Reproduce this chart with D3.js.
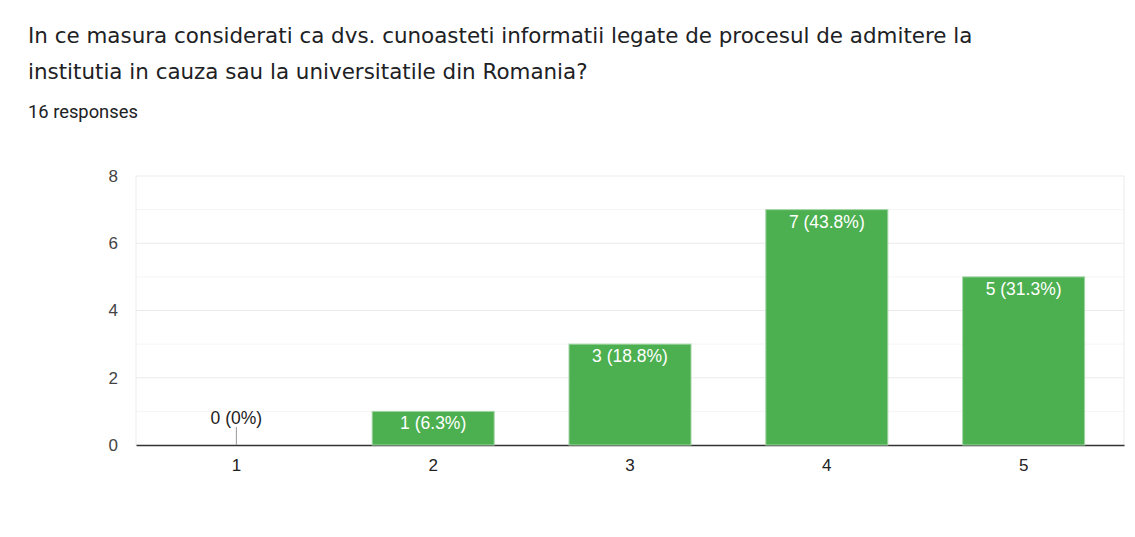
<!DOCTYPE html>
<html>
<head>
<meta charset="utf-8">
<script src="https://cdn.jsdelivr.net/npm/d3@7"></script>
<style>
  body { margin: 0; background: #fff; }
</style>
</head>
<body>
<div id="chart"></div>
<script>
// Chart data
const titleLines = [
  "In ce masura considerati ca dvs. cunoasteti informatii legate de procesul de admitere la",
  "institutia in cauza sau la universitatile din Romania?"
];
const responsesLabel = "16 responses";
const categories = ["1", "2", "3", "4", "5"];
const counts = [0, 1, 3, 7, 5];
const percents = ["0%", "6.3%", "18.8%", "43.8%", "31.3%"];
const yTicks = [0, 2, 4, 6, 8];

const W = 1135, H = 537;
const margin = { top: 176, right: 11, bottom: 92, left: 136 },
      width = W - margin.left - margin.right,
      height = H - margin.top - margin.bottom;
const chartFont = "Arial, 'Liberation Sans', sans-serif";

const root = d3.select("#chart")
  .append("svg")
  .attr("width", W)
  .attr("height", H);

// Title: size the font so the first line spans the same width as in the reference
const title = root.append("text")
  .attr("x", 28)
  .attr("y", 43)
  .attr("font-family", "'DejaVu Sans', sans-serif")
  .attr("font-size", 20)
  .attr("fill", "#202124");
title.selectAll("tspan")
  .data(titleLines)
  .join("tspan")
  .attr("x", 28)
  .attr("dy", (d, i) => i === 0 ? 0 : 36)
  .text(d => d);
const firstLen = title.select("tspan").node().getComputedTextLength();
title.attr("font-size", 20 * 945 / firstLen);

const sub = root.append("text")
  .attr("x", 28)
  .attr("y", 118)
  .attr("font-family", "Roboto, Arial, sans-serif")
  .attr("font-size", 17.5)
  .attr("fill", "#202124")
  .text(responsesLabel);
sub.attr("font-size", 17.5 * 110 / sub.node().getComputedTextLength());

const svg = root.append("g")
  .attr("transform", `translate(${margin.left},${margin.top})`);

// Scales
const x = d3.scaleBand()
  .domain(categories)
  .range([0, width])
  .paddingInner(0.38)
  .paddingOuter(0.2);

const y = d3.scaleLinear()
  .domain([0, 8])
  .range([height, 0]);

// Gridlines (minor on odd values, major on even)
svg.append("g")
  .selectAll("line")
  .data(d3.range(1, 9))
  .join("line")
  .attr("x1", 0)
  .attr("x2", width)
  .attr("y1", d => y(d))
  .attr("y2", d => y(d))
  .attr("stroke", d => d % 2 ? "#f5f5f5" : "#ebebeb")
  .attr("stroke-width", 1);

// Plot frame sides
svg.append("g")
  .selectAll("line")
  .data([0, width])
  .join("line")
  .attr("x1", d => d)
  .attr("x2", d => d)
  .attr("y1", y(8))
  .attr("y2", y(0))
  .attr("stroke", "#ebebeb");

// Y axis labels
const yAxis = svg.append("g")
  .call(d3.axisLeft(y).tickValues(yTicks).tickSize(0).tickPadding(18));
yAxis.attr("font-family", chartFont).attr("font-size", 17);
yAxis.select(".domain").remove();
yAxis.selectAll("text").attr("fill", "#444");

// X axis
const xAxis = svg.append("g")
  .attr("transform", `translate(0,${height})`)
  .call(d3.axisBottom(x).tickSize(0).tickPadding(14));
xAxis.attr("font-family", chartFont).attr("font-size", 17);
xAxis.select(".domain")
  .attr("stroke", "#333")
  .attr("stroke-width", 1.5);
xAxis.selectAll("text").attr("fill", "#222");

// Bars (drawn over the baseline so the empty bar shows as a green sliver)
svg.append("g")
  .selectAll("rect")
  .data(counts)
  .join("rect")
  .attr("x", (d, i) => x(categories[i]))
  .attr("y", d => y(d))
  .attr("width", x.bandwidth())
  .attr("height", d => Math.max(height - y(d), 0))
  .attr("fill", "#4caf50")
  .attr("stroke", d => d > 0 ? "#a5d6a7" : "#3a6e3c")
  .attr("stroke-width", 1);

// Value labels
const labels = svg.append("g")
  .attr("font-family", chartFont)
  .attr("font-size", 17.5)
  .attr("text-anchor", "middle");

counts.forEach((d, i) => {
  const cx = x(categories[i]) + x.bandwidth() / 2;
  const txt = `${d} (${percents[i]})`;
  if (d > 0) {
    labels.append("text")
      .attr("x", cx)
      .attr("y", y(d) + 18)
      .attr("fill", "#fff")
      .text(txt);
  } else {
    svg.append("line")
      .attr("x1", cx)
      .attr("x2", cx)
      .attr("y1", y(0) - 18)
      .attr("y2", y(0))
      .attr("stroke", "#999")
      .attr("stroke-width", 1);
    labels.append("text")
      .attr("x", cx)
      .attr("y", y(0) - 21)
      .attr("fill", "#222")
      .text(txt);
  }
});
</script>
</body>
</html>
